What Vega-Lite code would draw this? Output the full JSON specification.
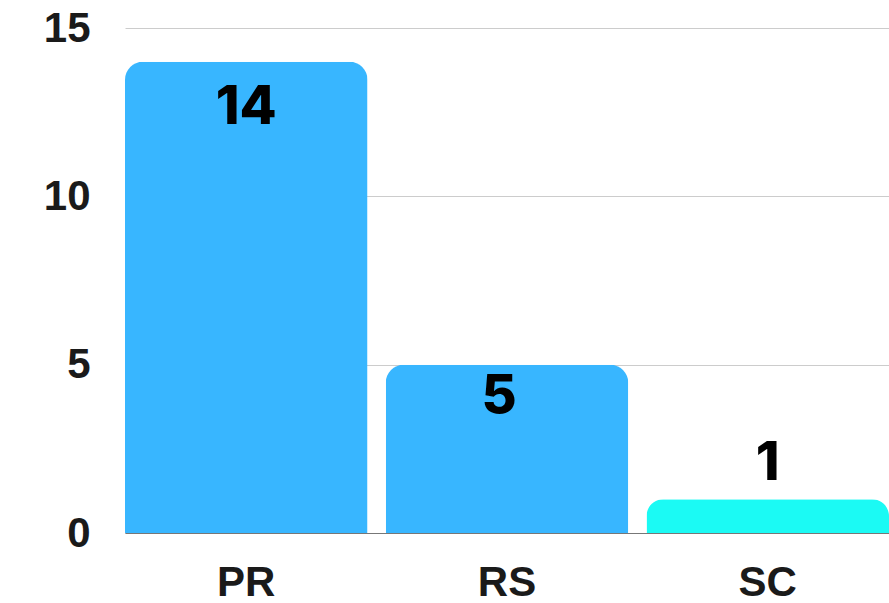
{
  "$schema": "https://vega.github.io/schema/vega-lite/v6.json",
  "width": 764,
  "height": 505,
  "autosize": {"type": "none"},
  "padding": {"left": 125, "top": 28, "right": 0, "bottom": 70},
  "background": "white",
  "config": {"view": {"stroke": null}},
  "data": {"values": [
    {"cat": "PR", "value": 14, "grp": "a"},
    {"cat": "RS", "value": 5, "grp": "a"},
    {"cat": "SC", "value": 1, "grp": "b"}
  ]},
  "encoding": {
    "x": {"field": "cat", "type": "nominal", "sort": null,
      "scale": {"paddingInner": 0.07, "paddingOuter": 0},
      "axis": {"title": null, "labelAngle": 0, "ticks": false, "domain": true, "domainColor": "#777777", "domainWidth": 1,
        "labelFont": "Liberation Sans", "labelFontSize": 42, "labelFontWeight": "bold", "labelColor": "#1a1a1a", "labelPadding": 29, "grid": false}},
    "y": {"field": "value", "type": "quantitative",
      "scale": {"domain": [0, 15], "nice": false},
      "axis": {"title": null, "values": [0, 5, 10, 15], "ticks": false, "domain": false, "gridColor": "#cccccc", "gridWidth": 1,
        "labelFont": "Liberation Sans", "labelFontSize": 42, "labelFontWeight": "bold", "labelColor": "#1a1a1a", "labelPadding": 35}}
  },
  "layer": [
    {"mark": {"type": "bar", "cornerRadiusTopLeft": 18, "cornerRadiusTopRight": 18},
      "encoding": {"color": {"field": "grp", "type": "nominal", "legend": null,
        "scale": {"domain": ["a", "b"], "range": ["#38B6FF", "#1BFAF4"]}}}},
    {"transform": [{"filter": "datum.value >= 10"}],
      "mark": {"type": "text", "baseline": "alphabetic", "dy": 62, "font": "Inter", "fontWeight": 800, "fontSize": 54, "color": "#000000"},
      "encoding": {"text": {"field": "value", "type": "quantitative"}}},
    {"transform": [{"filter": "datum.value >= 3 && datum.value < 10"}],
      "mark": {"type": "text", "baseline": "alphabetic", "dy": 48, "dx": -8, "font": "Inter", "fontWeight": 800, "fontSize": 54, "color": "#000000"},
      "encoding": {"text": {"field": "value", "type": "quantitative"}}},
    {"transform": [{"filter": "datum.value < 3"}],
      "mark": {"type": "text", "baseline": "alphabetic", "dy": -19, "font": "Inter", "fontWeight": 800, "fontSize": 54, "color": "#000000"},
      "encoding": {"text": {"field": "value", "type": "quantitative"}}}
  ]
}
